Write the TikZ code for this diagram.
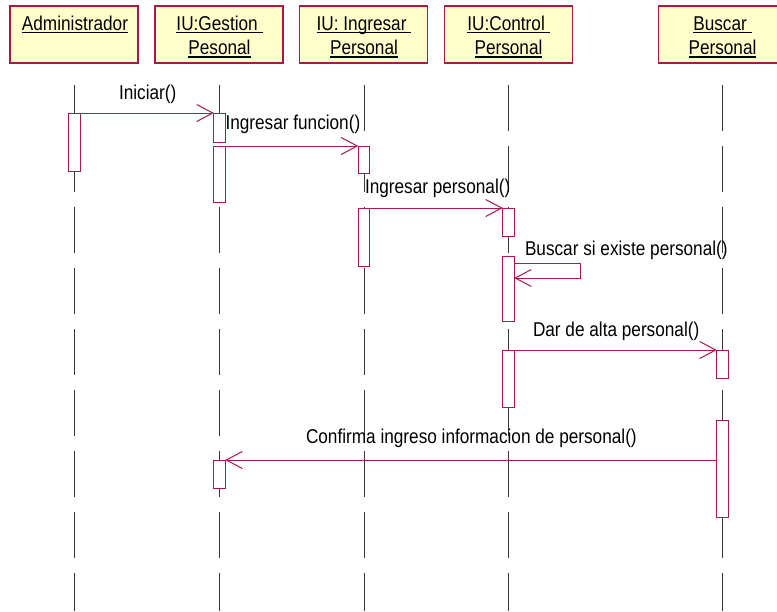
\documentclass[tikz,border=0pt]{standalone}
\usepackage{fontspec}
\setmainfont[FakeStretch=0.86]{Liberation Sans}
\usetikzlibrary{arrows.meta}
\definecolor{umlred}{RGB}{170,22,78}
\definecolor{hdfill}{RGB}{255,255,204}
\definecolor{lifegray}{RGB}{55,55,55}
% underlined object name with a rule at a fixed depth
\newcommand\ulbox[1]{\setbox0\hbox{#1}\rlap{\rule[-3pt]{\wd0}{1.1pt}}\box0}
\begin{document}
\begin{tikzpicture}[x=1pt,y=-1pt,
  every node/.style={font=\fontsize{20}{24}\selectfont, inner sep=0pt, outer sep=0pt},
  header/.style={draw=umlred, fill=hdfill, line width=1.2pt,
    minimum width=128pt, minimum height=57pt},
  hdtxt/.style={anchor=base},
  life/.style={draw=lifegray, line width=0.9pt, dash pattern=on 46pt off 15pt},
  act/.style={draw=umlred, fill=white, line width=1pt, minimum width=11.5pt, anchor=north},
  msg/.style={draw=umlred, line width=1pt, -{Straight Barb[length=16pt,width=17pt]}},
  lbl/.style={anchor=base west}]
\useasboundingbox (0,0) rectangle (777,611);
\clip (0,0) rectangle (777,611);

% object headers
\node[header] (hA) at (74,34.5) {};
\node[header] (hG) at (219,34.5) {};
\node[header] (hI) at (363.5,34.5) {};
\node[header] (hC) at (508.5,34.5) {};
\node[header] (hB) at (722.5,34.5) {};

\node[hdtxt] (tA)  at (75,30) {\ulbox{Administrador}};
\node[hdtxt] (tG1) at (219.5,30) {\ulbox{IU:Gestion\ }};
\node[hdtxt] (tG2) at (219.5,54.5) {\ulbox{Pesonal}};
\node[hdtxt] (tI1) at (364,30) {\ulbox{IU: Ingresar\ }};
\node[hdtxt] (tI2) at (364,54.5) {\ulbox{Personal}};
\node[hdtxt] (tC1) at (508.5,30) {\ulbox{IU:Control\ }};
\node[hdtxt] (tC2) at (508.5,54.5) {\ulbox{Personal}};
\node[hdtxt] (tB1) at (722.5,30) {\ulbox{Buscar\ }};
\node[hdtxt] (tB2) at (722.5,54.5) {\ulbox{Personal}};

% lifelines
\coordinate (lA) at (74.5,85);
\coordinate (lG) at (219.5,85);
\coordinate (lI) at (364,85);
\coordinate (lC) at (508.5,85);
\coordinate (lB) at (722.5,85);
\foreach \l in {lA,lG,lI,lC,lB}
  \draw[life] (\l) -- (\l |- 0,611);

% activations
\node[act, minimum height=58pt] (aA)  at (74.5,113) {};
\node[act, minimum height=29pt] (aG1) at (219.5,113) {};
\node[act, minimum height=56pt] (aG2) at (219.5,146) {};
\node[act, minimum height=28pt] (aG3) at (219.5,460) {};
\node[act, minimum height=27pt] (aI1) at (364,146) {};
\node[act, minimum height=58pt] (aI2) at (364,208) {};
\node[act, minimum height=28pt] (aC1) at (508.5,208) {};
\node[act, minimum height=65pt] (aC2) at (508.5,256) {};
\node[act, minimum height=57pt] (aC3) at (508.5,350) {};
\node[act, minimum height=28pt] (aB1) at (722.5,350) {};
\node[act, minimum height=97pt] (aB2) at (722.5,420) {};

% messages
\draw[msg] (aA.north east) -- (aG1.north west);
\draw[msg] (aG2.north east) -- (aI1.north west);
\draw[msg] (aI2.north east) -- (aC1.north west);
\draw[msg] ([yshift=-7pt]aC2.north east) -- ++(66,0) -- ++(0,15)
  -- ([yshift=-22pt]aC2.north east);
\draw[msg] (aC3.north east) -- (aB1.north west);
\draw[msg] (aB2.west |- aG3.north) -- (aG3.north east);

% message labels
\node[lbl] (m1) at (119,99.5) {Iniciar()};
\node[lbl] (m2) at (225.5,129.5) {Ingresar funcion()};
\node[lbl] (m3) at (365,193) {Ingresar personal()};
\node[lbl] (m4) at (525,255) {Buscar si existe personal()};
\node[lbl] (m5) at (533,336) {Dar de alta personal()};
\node[lbl] (m6) at (306,443.5) {Confirma ingreso informacion de personal()};
\end{tikzpicture}
\end{document}
